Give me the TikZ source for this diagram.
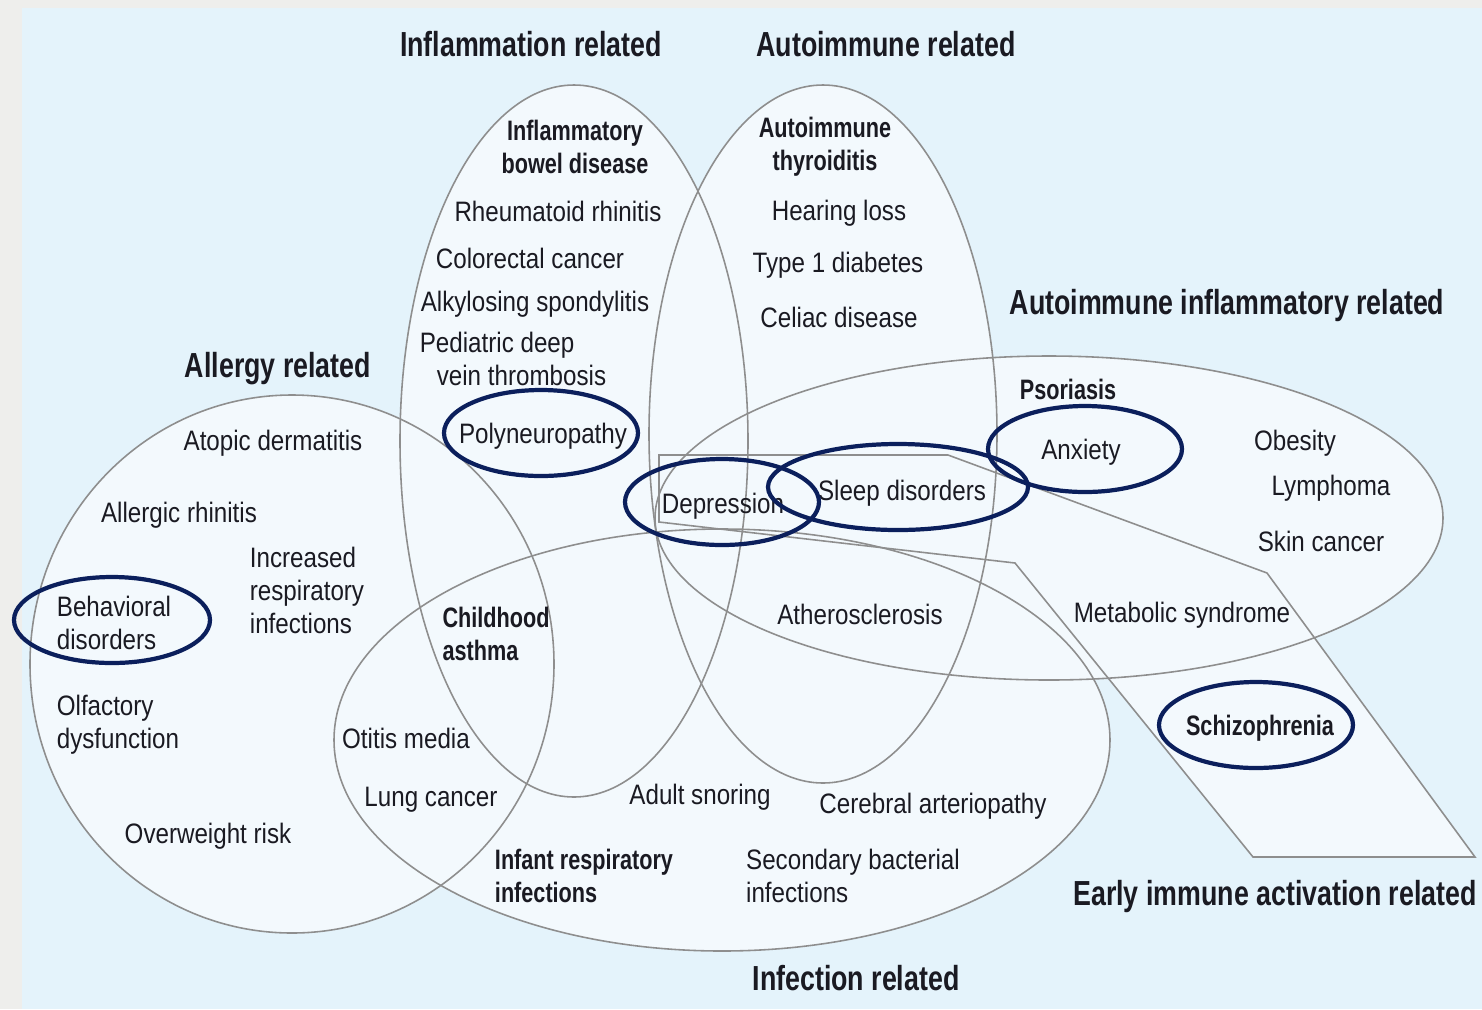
\documentclass[tikz,border=0pt]{standalone}
\usepackage{fontspec}
\setmainfont{Liberation Sans}[FakeStretch=0.86]
\newfontfamily\headfont{Liberation Sans}[FakeStretch=0.77]
\usepackage{xcolor}
\usepackage{tikz}
\usetikzlibrary{positioning}

\definecolor{frame}{HTML}{EEEEEC}
\definecolor{paper}{HTML}{E4F3FB}
\definecolor{zonefill}{HTML}{F3F9FD}
\definecolor{zoneline}{HTML}{8E8E8E}
\definecolor{ink}{HTML}{1A1A22}
\definecolor{navy}{HTML}{0B1F5C}

\begin{document}
\begin{tikzpicture}[
  x=0.02cm, y=-0.02cm,
  font=\fontsize{16}{18.8}\selectfont,
  zone/.style={draw=zoneline, line width=0.9pt},
  item/.style={text=ink, inner sep=0pt, align=center},
  key/.style={item, font=\fontsize{16}{18.8}\selectfont\headfont\bfseries},
  group/.style={item, font=\fontsize{19.8}{22}\selectfont\headfont\bfseries},
  ring/.style={draw=navy, line width=2.4pt}
]
  \useasboundingbox (0,0) rectangle (1482,1009);
  \fill[frame] (0,0) rectangle (1482,1009);
  \fill[paper] (22,8) rectangle (1482,1009);

  % the five groups and the early-activation band
  \foreach \cx/\cy/\rx/\ry in {292/664/262/269, 574/441/174/356, 823/434/174/349,
                               1049/518/394/162, 722/740/388/211}{
    \fill[zonefill] (\cx,\cy) ellipse [x radius=\rx, y radius=\ry];
  }
  \fill[zonefill] (659,455) -- (948,455) -- (1267,573) -- (1475,857)
    -- (1253,857) -- (1015,563) -- (659,522) -- cycle;
  \foreach \cx/\cy/\rx/\ry in {292/664/262/269, 574/441/174/356, 823/434/174/349,
                               1049/518/394/162, 722/740/388/211}{
    \draw[zone] (\cx,\cy) ellipse [x radius=\rx, y radius=\ry];
  }
  \draw[zone] (659,455) -- (948,455) -- (1267,573) -- (1475,857)
    -- (1253,857) -- (1015,563) -- (659,522) -- cycle;

  % group headings
  \node[group] (hInfl) at (531,44) {Inflammation related};
  \node[group] (hAuto) at (886,44) {Autoimmune related};
  \node[group] (hAutoInf) at (1227,305) {Autoimmune inflammatory related};
  \node[group] (hAllergy) at (278,369) {Allergy related};
  \node[group] (hEarly) at (1275,896) {Early immune activation related};
  \node[group] (hInfect) at (856,978) {Infection related};

  % inflammation
  \node[key] (ibd) at (575,147) {Inflammatory\\bowel disease};
  \node[item] (rheum) at (558,211) {Rheumatoid rhinitis};
  \node[item] (colo) at (530,258) {Colorectal cancer};
  \node[item] (spond) at (535,304) {Alkylosing spondylitis};
  \node[item, align=left] (dvt) at (513,359) {Pediatric deep\\\hspace*{0.34cm}vein thrombosis};
  \node[item] (poly) at (543,436) {Polyneuropathy};

  % autoimmune
  \node[key] (ait) at (825,147) {Autoimmune\\thyroiditis};
  \node[item] (hear) at (839,213) {Hearing loss};
  \node[item] (t1d) at (838,265) {Type 1 diabetes};
  \node[item] (celiac) at (839,317) {Celiac disease};

  % autoimmune inflammatory
  \node[key] (psor) at (1068,389) {Psoriasis};
  \node[item] (anx) at (1081,452) {Anxiety};
  \node[item] (obes) at (1295,443) {Obesity};
  \node[item] (lymph) at (1331,488) {Lymphoma};
  \node[item] (skin) at (1321,541) {Skin cancer};
  \node[item] (metab) at (1182,615) {Metabolic syndrome};

  % centre overlaps
  \node[item] (depr) at (723,506) {Depression};
  \node[item] (sleep) at (902,493) {Sleep disorders};
  \node[item] (ather) at (860,614) {Atherosclerosis};
  \node[key] (schizo) at (1260,728) {Schizophrenia};

  % allergy
  \node[item] (atopic) at (273,443) {Atopic dermatitis};
  \node[item] (arhin) at (179,515) {Allergic rhinitis};
  \node[item, align=left] (resp) at (307,590) {Increased\\respiratory\\infections};
  \node[item, align=left] (behav) at (114,623) {Behavioral\\disorders};
  \node[item, align=left] (olf) at (118,725) {Olfactory\\dysfunction};
  \node[item] (overw) at (208,836) {Overweight risk};
  \node[key, align=left] (asthma) at (496,634) {Childhood\\asthma};

  % infection
  \node[item] (otitis) at (406,738) {Otitis media};
  \node[item] (lung) at (431,800) {Lung cancer};
  \node[item] (snore) at (700,797) {Adult snoring};
  \node[item] (cereb) at (933,806) {Cerebral arteriopathy};
  \node[key, align=left] (infant) at (584,876) {Infant respiratory\\infections};
  \node[item, align=left] (secbac) at (853,876) {Secondary bacterial\\infections};

  % highlighted conditions
  \foreach \n/\rx/\dx/\dy in {poly/97/-2/-3, depr/97/-1/-4, sleep/130/-4/-6,
                              anx/97/4/-3, behav/98/-2/-3, schizo/97/-4/-3}{
    \draw[ring] ([shift={(\dx,\dy)}]\n.center) ellipse [x radius=\rx, y radius=43];
  }
\end{tikzpicture}
\end{document}
